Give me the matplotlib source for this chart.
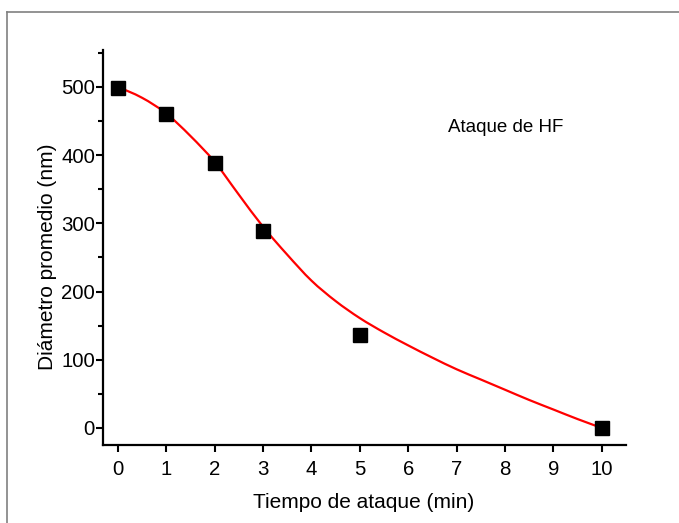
import matplotlib
matplotlib.use("Agg")
import matplotlib.pyplot as plt
from matplotlib.lines import Line2D
from matplotlib.path import Path
from matplotlib.patches import PathPatch
from matplotlib.ticker import MultipleLocator

plt.rcParams['font.family'] = ['Liberation Sans', 'DejaVu Sans']

# Measured mean diameter vs. HF etching time
time_min = [0, 1, 2, 3, 5, 10]
diameter_nm = [498, 460, 389, 289, 136, 0]

# Fitted trend curve samples
fit_time = [0, 0.5, 1, 1.5, 2, 2.5, 3, 3.5, 4, 4.5, 5, 5.5, 6, 6.5, 7,
            7.5, 8, 8.5, 9, 9.5, 10]
fit_diam = [500, 484, 461, 428, 390, 342, 295, 254, 216, 186, 161, 140,
            121, 103, 86, 71, 56, 41, 27, 13, 0]

x_ticks = [0, 1, 2, 3, 4, 5, 6, 7, 8, 9, 10]
y_ticks = [0, 100, 200, 300, 400, 500]


def smooth_path(xs, ys):
    """Catmull-Rom curve through the samples, as cubic Bezier segments."""
    pts = list(zip(xs, ys))
    n = len(pts)
    verts = [pts[0]]
    codes = [Path.MOVETO]
    for i in range(n - 1):
        p0 = pts[max(i - 1, 0)]
        p1 = pts[i]
        p2 = pts[i + 1]
        p3 = pts[min(i + 2, n - 1)]
        c1 = (p1[0] + (p2[0] - p0[0]) / 6, p1[1] + (p2[1] - p0[1]) / 6)
        c2 = (p2[0] - (p3[0] - p1[0]) / 6, p2[1] - (p3[1] - p1[1]) / 6)
        verts += [c1, c2, p2]
        codes += [Path.CURVE4] * 3
    return Path(verts, codes)


W, H = 679, 523
fig = plt.figure(figsize=(W / 100, H / 100), dpi=100)
ax = fig.add_axes([103.3 / W, (H - 445) / H, (626 - 103.3) / W, (445 - 50) / H])

ax.add_patch(PathPatch(smooth_path(fit_time, fit_diam), facecolor='none',
                       edgecolor='#ff0000', lw=1.6, zorder=2))
ax.plot(time_min, diameter_nm, ls='none', marker='s', ms=9.5,
        color='black', zorder=3)

ax.set_xlim(-0.3, 10.5)
ax.set_ylim(-25, 554)
ax.set_xticks(x_ticks)
ax.set_yticks(y_ticks)
ax.yaxis.set_minor_locator(MultipleLocator(50))

for s in ('top', 'right'):
    ax.spines[s].set_visible(False)
for s in ('left', 'bottom'):
    ax.spines[s].set_linewidth(1.6)

ax.tick_params(which='major', direction='out', length=5, width=1.5,
               labelsize=14.7, colors='black')
ax.tick_params(axis='x', which='major', pad=6)
ax.tick_params(axis='y', which='major', pad=1)
ax.tick_params(which='minor', direction='out', length=3.5, width=1.5)

fig.text(364 / W, (H - 502) / H, 'Tiempo de ataque (min)', fontsize=15,
         ha='center', va='center')
fig.text(48 / W, (H - 257) / H, 'Diámetro promedio (nm)', fontsize=15,
         rotation=90, ha='center', va='center')

fig.text(448 / W, (H - 127) / H, 'Ataque de HF', fontsize=13.5,
         ha='left', va='center')

# Page frame lines along the left and top edges
fig.add_artist(Line2D([6.5 / W, 6.5 / W], [0, (H - 12) / H],
                      transform=fig.transFigure, color='#808080', lw=1.2))
fig.add_artist(Line2D([6.5 / W, 1], [(H - 12) / H, (H - 12) / H],
                      transform=fig.transFigure, color='#808080', lw=1.2))

fig.savefig('out.png', dpi=100)
